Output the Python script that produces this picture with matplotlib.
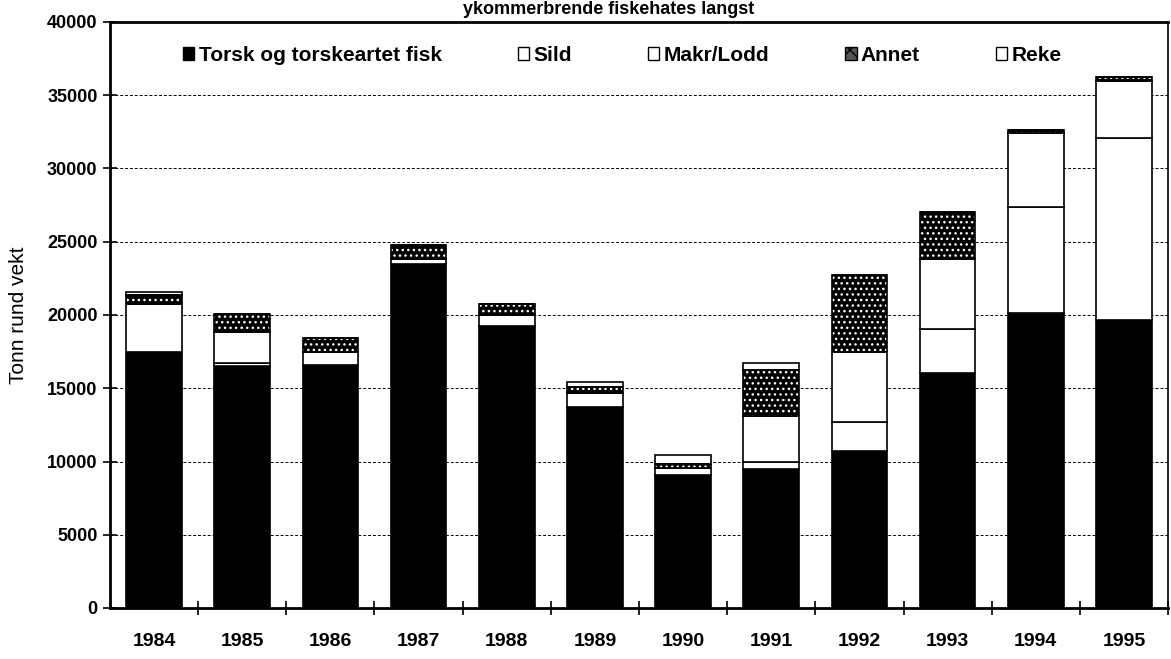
import numpy as np
import matplotlib
matplotlib.use('Agg')
import matplotlib.pyplot as plt
from matplotlib.patches import Patch

plt.rcParams['font.family'] = ['Liberation Sans', 'DejaVu Sans']

years = ['1984', '1985', '1986', '1987', '1988', '1989', '1990', '1991', '1992', '1993', '1994', '1995']
torsk = [17500, 16500, 16600, 23450, 19250, 13730, 9050, 9500, 10700, 16050, 20150, 19650]
sild = [3250, 200, 900, 350, 750, 970, 490, 450, 2000, 3000, 7200, 12400]
makr = [0, 2150, 0, 0, 0, 0, 0, 3150, 4800, 4800, 5050, 3950]
annet = [620, 1200, 900, 950, 750, 410, 320, 3150, 5200, 3150, 250, 230]
reke = [220, 0, 0, 0, 0, 340, 570, 500, 0, 0, 0, 0]

labels = ['Torsk og torskeartet fisk', 'Sild', 'Makr/Lodd', 'Annet', 'Reke']
yticks = [0, 5000, 10000, 15000, 20000, 25000, 30000, 35000, 40000]


def main():
    fig = plt.figure(figsize=(11.71, 6.59), dpi=100)
    ax = fig.add_axes([110 / 1171, 1 - 608 / 659, 1058 / 1171, 586 / 659])

    x = np.arange(len(years))
    w = 0.63
    series = [torsk, sild, makr, annet, reke]
    bottom = np.zeros(len(years))
    for i, vals in enumerate(series):
        vals = np.array(vals, dtype=float)
        if labels[i] == 'Annet':
            # black with white dots, outline drawn separately
            ax.bar(x, vals, w, bottom=bottom, color='black', edgecolor='white',
                   hatch='...', linewidth=0, zorder=3)
            ax.bar(x, vals, w, bottom=bottom, facecolor='none', edgecolor='black',
                   linewidth=1.2, zorder=4)
        elif i == 0:
            ax.bar(x, vals, w, bottom=bottom, color='black', edgecolor='black',
                   linewidth=1.2, zorder=3)
        else:
            ax.bar(x, vals, w, bottom=bottom, color='white', edgecolor='black',
                   linewidth=1.2, zorder=3)
        bottom += vals

    ax.set_xlim(-0.5, len(years) - 0.5)
    ax.set_ylim(0, 40000)
    ax.set_yticks(yticks)
    ax.set_yticklabels([str(t) for t in yticks], fontsize=13, fontweight='bold')
    ax.set_xticks(x)
    ax.set_xticklabels(years, fontsize=14, fontweight='bold')
    ax.tick_params(axis='x', length=0, pad=18)
    ax.set_xticks(np.arange(len(years)) + 0.5, minor=True)
    ax.tick_params(axis='x', which='minor', direction='inout', length=10, width=1.2)
    ax.tick_params(axis='y', direction='inout', length=10, width=1.2, pad=4)

    ax.grid(axis='y', color='black', linestyle=(0, (3, 2)), linewidth=0.7, zorder=1)
    ax.set_axisbelow(True)
    for sp in ax.spines.values():
        sp.set_linewidth(2)
    ax.spines['right'].set_linewidth(1.2)

    ax.set_ylabel('Tonn rund vekt', fontsize=15, labelpad=14)

    handles = [Patch(facecolor='black', edgecolor='black'),
               Patch(facecolor='white', edgecolor='black'),
               Patch(facecolor='white', edgecolor='black'),
               Patch(facecolor='#555555', edgecolor='black', hatch='xx'),
               Patch(facecolor='white', edgecolor='black')]
    fig.legend(handles, labels, loc='upper left', bbox_to_anchor=(183 / 1171, 1 - 46 / 659),
               ncol=5, frameon=False, prop={'size': 15, 'weight': 'bold'},
               handlelength=0.55, handleheight=0.55, handletextpad=0.2,
               columnspacing=3.65, borderpad=0, borderaxespad=0)

    # title: only its lower part is visible in the scan
    fig.text(0.52, 1 - 1 / 659, 'ykommerbrende fiskehates langst', ha='center', va='top',
             fontsize=13, fontweight='bold')

    fig.savefig('out.png', dpi=100)


if __name__ == "__main__":
    main()
